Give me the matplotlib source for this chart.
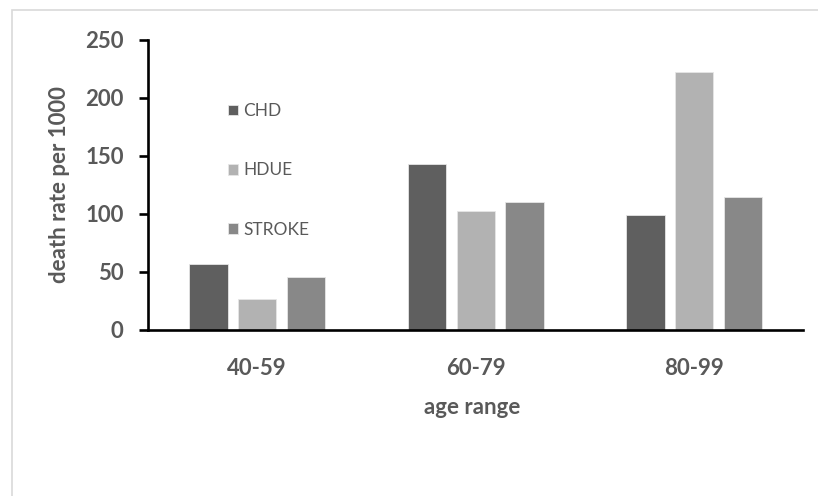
import numpy as np
import matplotlib.pyplot as plt
from matplotlib.patches import Rectangle

# dados
age_ranges = ["40-59", "60-79", "80-99"]
series_names = ["CHD", "HDUE", "STROKE"]
chd = [57, 143, 99]
hdue = [27, 103, 222]
stroke = [46, 110, 115]
y_ticks = [0, 50, 100, 150, 200, 250]

colors = ["#5f5f5f", "#b2b2b2", "#888888"]
gray_text = "#595959"

plt.rcParams['font.family'] = ['Lato', 'DejaVu Sans']

fig = plt.figure(figsize=(8.18, 4.96), dpi=100)
ax = fig.add_axes([148 / 818, 1 - 330 / 496, 655.5 / 818, 290 / 496])

# moldura cinza clara (só esquerda e topo aparecem)
fig.patches.append(Rectangle((12 / 818, -0.2), 1.5, 0.2 + 486 / 496,
                             transform=fig.transFigure, fill=False,
                             edgecolor="#d9d9d9", linewidth=1.2))

x = np.arange(len(age_ranges))
width = 0.176
step = 0.224
for i, (vals, name) in enumerate(zip([chd, hdue, stroke], series_names)):
    ax.bar(x + (i - 1) * step, vals, width, color=colors[i], label=name,
           edgecolor="#e6e6e6", linewidth=0.6, zorder=2)

ax.set_xlim(-0.5, 2.5)
ax.set_ylim(0, 250)
ax.set_yticks(y_ticks)
ax.set_xticks(x)
ax.set_xticklabels(age_ranges)

for s in ["top", "right"]:
    ax.spines[s].set_visible(False)
for s in ["left", "bottom"]:
    ax.spines[s].set_linewidth(1.9)
    ax.spines[s].set_color("black")
    ax.spines[s].set_zorder(3)

ax.tick_params(axis="y", direction="out", length=6.5, width=1.9, color="black",
               pad=11, labelsize=16, labelcolor=gray_text)
ax.tick_params(axis="x", length=0, pad=20, labelsize=16, labelcolor=gray_text)
for lab in ax.get_xticklabels() + ax.get_yticklabels():
    lab.set_fontweight("bold")

fig.text(60 / 818, 1 - 185 / 496, "death rate per 1000", rotation=90,
         ha="center", va="center", fontsize=16, fontweight="bold", color=gray_text)
fig.text(472 / 818, 1 - 408 / 496, "age range", ha="center", va="center",
         fontsize=16, fontweight="bold", color=gray_text)

leg = ax.legend(loc="center left", bbox_to_anchor=(0.122, 0.55), frameon=False,
                fontsize=12.5, labelspacing=2.5, handlelength=0.57, handleheight=0.57,
                handletextpad=0.3, borderpad=0, borderaxespad=0)
for t in leg.get_texts():
    t.set_color(gray_text)

fig.savefig("out.png", dpi=100)
